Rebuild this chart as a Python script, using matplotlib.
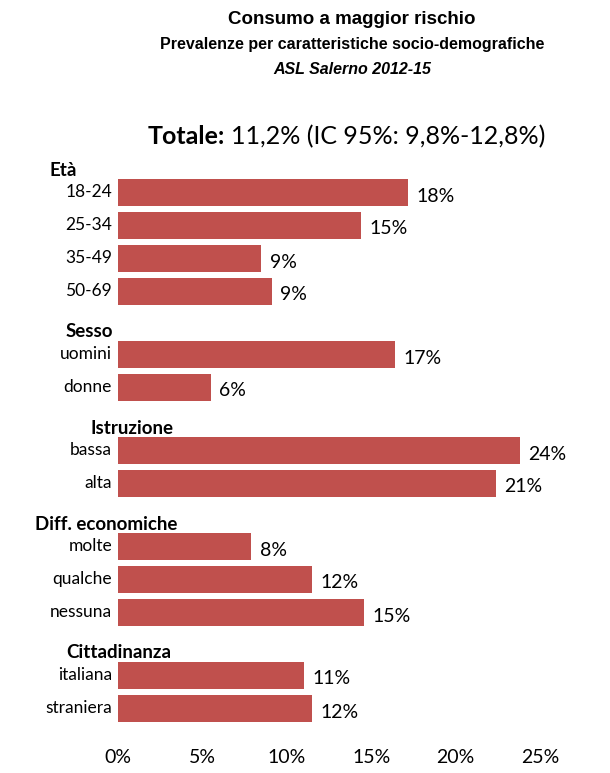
import matplotlib
matplotlib.use('Agg')
import matplotlib.pyplot as plt

# data
groups = ["Età", "Sesso", "Istruzione", "Diff. economiche", "Cittadinanza"]
categories = [
    ["18-24", "25-34", "35-49", "50-69"],
    ["uomini", "donne"],
    ["bassa", "alta"],
    ["molte", "qualche", "nessuna"],
    ["italiana", "straniera"],
]
values = [
    [17.2, 14.4, 8.5, 9.1],
    [16.4, 5.5],
    [23.8, 22.4],
    [7.9, 11.5, 14.6],
    [11.0, 11.5],
]
labels = [
    ["18%", "15%", "9%", "9%"],
    ["17%", "6%"],
    ["24%", "21%"],
    ["8%", "12%", "15%"],
    ["11%", "12%"],
]
header_x = [50, 66, 90, 35, 66]

W, H = 610, 773
fig = plt.figure(figsize=(W / 100, H / 100), dpi=100)
top_px, bot_px = 160, 730
ax = fig.add_axes([118 / W, 1 - bot_px / H, (540 - 118) / W, (bot_px - top_px) / H])
ax.set_xlim(0, 25)
ax.set_ylim(bot_px, top_px)

color = '#C0504D'
font = 'Lato'
row_step = 33
y = 170
for g, cats, vals, labs, hx in zip(groups, categories, values, labels, header_x):
    fig.text(hx / W, 1 - y / H, g, fontsize=13.5, fontweight='bold', family=font,
             ha='left', va='center')
    y += 22
    for c, v, l in zip(cats, vals, labs):
        ax.barh(y, v, height=27, color=color)
        ax.text(v + 0.5, y + 4, l, fontsize=14, family=font, va='center', ha='left')
        fig.text(112 / W, 1 - y / H, c, fontsize=12.5, family=font, ha='right', va='center')
        y += row_step
    y += 8

ax.set_yticks([])
ax.set_xticks([0, 5, 10, 15, 20, 25])
ax.set_xticklabels([f"{t}%" for t in [0, 5, 10, 15, 20, 25]], fontsize=14, family=font)
ax.tick_params(axis='x', length=0, pad=14)
for s in ['top', 'right', 'bottom', 'left']:
    ax.spines[s].set_visible(False)

fig.text(352 / W, 1 - 20 / H, "Consumo a maggior rischio", fontsize=13.5, fontweight='bold',
         ha='center', va='center', family='Liberation Sans')
fig.text(352 / W, 1 - 45 / H, "Prevalenze per caratteristiche socio-demografiche", fontsize=11.5,
         fontweight='bold', ha='center', va='center', family='Liberation Sans')
fig.text(352 / W, 1 - 69 / H, "ASL Salerno 2012-15", fontsize=11.5, fontweight='bold',
         style='italic', ha='center', va='center', family='Liberation Sans')
fig.text(225 / W, 1 - 137 / H, "Totale:", fontsize=18, fontweight='bold',
         ha='right', va='center', family=font)
fig.text(231 / W, 1 - 137 / H, "11,2% (IC 95%: 9,8%-12,8%)", fontsize=18,
         ha='left', va='center', family=font)

fig.savefig('out.png', dpi=100)
plt.close(fig)
